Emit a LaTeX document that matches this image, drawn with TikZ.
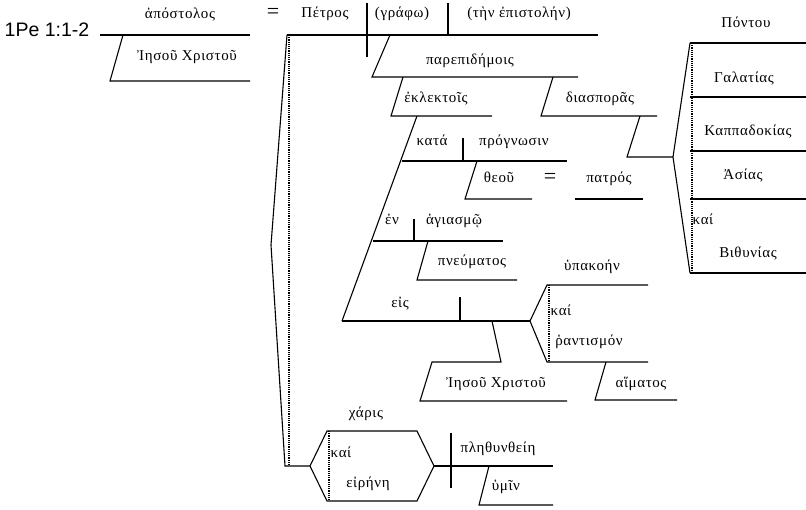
\documentclass[tikz,border=0pt]{standalone}
\usepackage{fontspec}
\setmainfont{Liberation Serif}
\newfontfamily\grk[LetterSpace=4]{Liberation Serif}
\newfontfamily\refsans{Liberation Sans}
\usepackage{tikz}

\tikzset{
  word/.style={inner sep=0pt, text height=1.5ex, text depth=0.25ex,
    font=\grk\fontsize{15}{17}\selectfont},
  rule/.style={line width=1.1pt},
  dots/.style={line width=1.2pt, dash pattern=on 1.1pt off 1.1pt},
  equals/.style={inner sep=0pt, font=\fontsize{22}{22}\selectfont},
}

\begin{document}
\begin{tikzpicture}[x=1pt,y=-1pt]
  \useasboundingbox (0,0) rectangle (806,509);

  % reference
  \node[inner sep=0pt, font=\refsans\fontsize{19.5}{21}\selectfont] (ref) at (47,30) {1Pe 1:1-2};

  % apposition
  \draw[rule] (100,35) -- (250,35);
  \draw[rule] (123,35) -- (110,81) -- (250,81);
  \node[word] (apostolos) at (180,16) {ἀπόστολος};
  \node[word] (iesou1) at (187,58) {Ἰησοῦ Χριστοῦ};
  \node[equals] (eq1) at (273,13) {=};

  % subject, verb, object
  \draw[rule] (287,35) -- (598,35);
  \draw[rule] (367,3) -- (367,57);
  \draw[rule] (448,3) -- (448,35);
  \node[word] (petros) at (325,15) {Πέτρος};
  \node[word] (grafo) at (402,15) {(γράφω)};
  \node[word] (epistolen) at (519,15) {(τὴν ἐπιστολήν)};

  % parepidemois
  \draw[rule] (390,35) -- (372,77) -- (578,77);
  \node[word] (parepid) at (470,62) {παρεπιδήμοις};

  % eklektois and diasporas
  \draw[rule] (403,77) -- (391,116) -- (492,116);
  \node[word] (eklektois) at (436,100) {ἐκλεκτοῖς};
  \draw[rule] (553,77) -- (541,116) -- (657,116);
  \node[word] (diasporas) at (600,100) {διασπορᾶς};

  % provinces
  \draw[rule] (640,116) -- (627,157) -- (673,157);
  \draw[rule] (690,43) -- (673,157) -- (690,273);
  \draw[dots] (692,43) -- (692,273);
  \foreach \y in {43,97,151,199,273}
  \draw[rule] (690,\y) -- (806,\y);
  \node[word] (pontou) at (746,25) {Πόντου};
  \node[word] (galatias) at (744,80) {Γαλατίας};
  \node[word] (kappad) at (748,133) {Καππαδοκίας};
  \node[word] (asias) at (743,177) {Ἀσίας};
  \node[word] (kai1) at (703,222) {καί};
  \node[word] (bithyn) at (748,255) {Βιθυνίας};

  % kata
  \draw[rule] (417,116) -- (342,321);
  \draw[rule] (402,161) -- (567,161);
  \draw[rule] (463,138) -- (463,161);
  \node[word] (kata) at (432,143) {κατά};
  \node[word] (prognosin) at (514,143) {πρόγνωσιν};
  \draw[rule] (477,161) -- (465,199) -- (532,199);
  \draw[rule] (575,199) -- (643,199);
  \node[word] (theou) at (499,180) {θεοῦ};
  \node[equals] (eq2) at (550,178) {=};
  \node[word] (patros) at (609,180) {πατρός};

  % en
  \draw[rule] (373,241) -- (503,241);
  \draw[rule] (414,219) -- (414,241);
  \node[word] (en) at (392,222) {ἐν};
  \node[word] (hagiasmo) at (454,222) {ἁγιασμῷ};
  \draw[rule] (428,241) -- (417,280) -- (517,280);
  \node[word] (pneumatos) at (472,263) {πνεύματος};

  % eis
  \draw[rule] (342,321) -- (530,321);
  \draw[rule] (460,297) -- (460,321);
  \node[word] (eis) at (400,305) {εἰς};
  \draw[rule] (492,321) -- (501,362) -- (432,362) -- (420,401) -- (567,401);
  \node[word] (iesou2) at (496,385) {Ἰησοῦ Χριστοῦ};
  \draw[rule] (648,285) -- (547,285) -- (530,321) -- (547,362) -- (648,362);
  \draw[dots] (549,285) -- (549,362);
  \node[word] (hypakoen) at (592,268) {ὑπακοήν};
  \node[word] (kai2) at (561,313) {καί};
  \node[word] (rhantismon) at (589,343) {ῥαντισμόν};
  \draw[rule] (606,362) -- (595,400) -- (677,400);
  \node[word] (haimatos) at (641,385) {αἵματος};

  % second clause
  \draw[rule] (287,35) -- (271,245) -- (285,466) -- (310,466);
  \draw[dots] (289,35) -- (289,466);
  \draw[rule] (310,466) -- (327,431) -- (417,431) -- (434,466)
  -- (417,501) -- (327,501) -- cycle;
  \draw[dots] (329,431) -- (329,501);
  \node[word] (charis) at (366,415) {χάρις};
  \node[word] (kai3) at (341,455) {καί};
  \node[word] (eirene) at (368,485) {εἰρήνη};
  \draw[rule] (434,466) -- (553,466);
  \draw[rule] (451,433) -- (451,488);
  \node[word] (plethyn) at (498,450) {πληθυνθείη};
  \draw[rule] (489,466) -- (479,505) -- (553,505);
  \node[word] (hymin) at (506,488) {ὑμῖν};

\end{tikzpicture}
\end{document}
